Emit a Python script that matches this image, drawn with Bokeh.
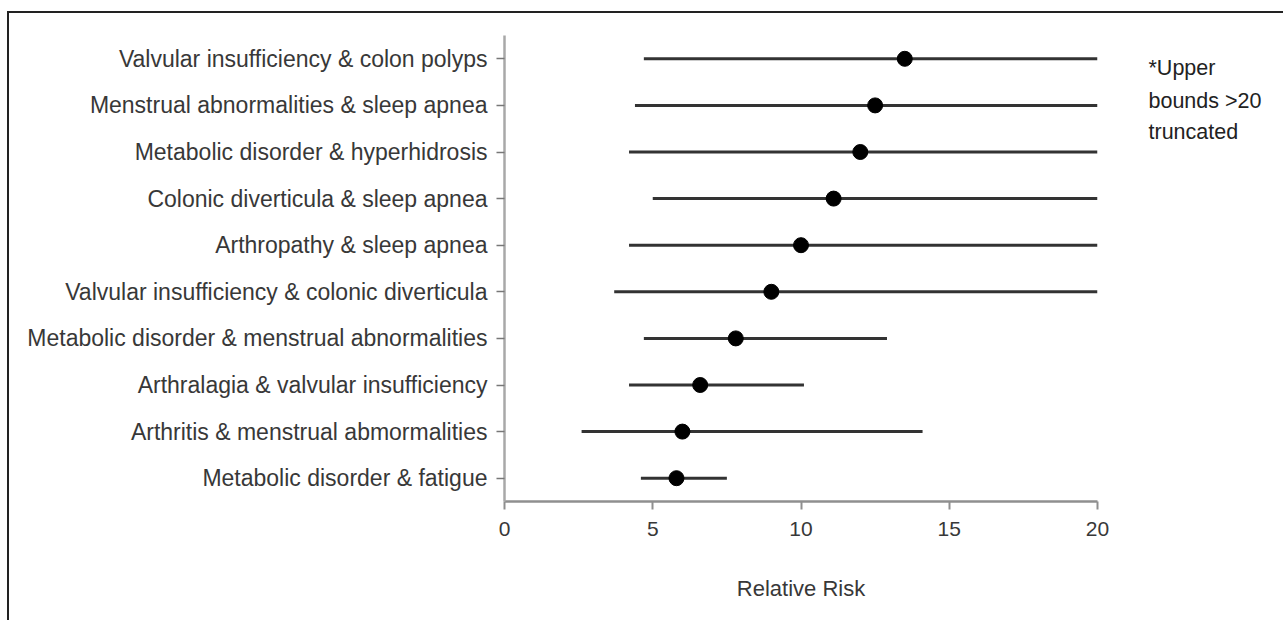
from bokeh.plotting import figure
from bokeh.models import Range1d, FixedTicker, ColumnDataSource, LinearAxis
from bokeh.embed import file_html
from bokeh.resources import INLINE

# Data (top-to-bottom as in the reference)
pairs = [
    "Valvular insufficiency & colon polyps",
    "Menstrual abnormalities & sleep apnea",
    "Metabolic disorder & hyperhidrosis",
    "Colonic diverticula & sleep apnea",
    "Arthropathy & sleep apnea",
    "Valvular insufficiency & colonic diverticula",
    "Metabolic disorder & menstrual abnormalities",
    "Arthralagia & valvular insufficiency",
    "Arthritis & menstrual abmormalities",
    "Metabolic disorder & fatigue",
]
relative_risk = [13.5, 12.5, 12.0, 11.1, 10.0, 9.0, 7.8, 6.6, 6.0, 5.8]
lower_bound = [4.7, 4.4, 4.2, 5.0, 4.2, 3.7, 4.7, 4.2, 2.6, 4.6]
upper_bound = [20, 20, 20, 20, 20, 20, 12.9, 10.1, 14.1, 7.5]  # >20 truncated at 20
x_ticks = [0, 5, 10, 15, 20]
note_lines = ["*Upper", "bounds >20", "truncated"]

FONT = "Liberation Sans"
TXT = "#383838"

n = len(pairs)
row_pos = [n - 0.5 - i for i in range(n)]          # one band per pair, top to bottom
src = ColumnDataSource(dict(pos=row_pos, rr=relative_risk, lo=lower_bound, hi=upper_bound))

# canvas offset produced by the CSS margin+border below
OX, OY = 9, 13
FW, FH = 593, 466
LEFT, TOP = 504 - OX, 35 - OY
p = figure(
    y_range=Range1d(0, n),
    x_range=Range1d(0, 20),
    frame_width=FW, frame_height=FH,
    min_border_left=LEFT, min_border_right=1274 - LEFT - FW,
    min_border_top=TOP, min_border_bottom=607 - TOP - FH,
    output_backend="svg", toolbar_location=None,
)
p.styles = {"margin-top": "11px", "margin-left": "7px",
            "border-top": "2px solid #222222", "border-left": "2px solid #222222"}
p.outline_line_color = None
p.xgrid.grid_line_color = None
p.ygrid.grid_line_color = None
p.background_fill_color = "white"
p.border_fill_color = "white"

p.segment(x0="lo", y0="pos", x1="hi", y1="pos", source=src,
          line_color="#333333", line_width=3)
p.scatter(x="rr", y="pos", source=src, size=15, marker="circle",
          fill_color="black", line_color="black")

# x axis
xa = p.xaxis[0]
xa.ticker = FixedTicker(ticks=x_ticks)
xa.minor_tick_line_color = None
xa.axis_line_color = "#8f8f8f"
xa.axis_line_width = 2.5
xa.major_tick_line_color = "#8f8f8f"
xa.major_tick_line_width = 2
xa.major_tick_in = 0
xa.major_tick_out = 8
xa.major_label_standoff = 12
xa.major_label_text_font = FONT
xa.major_label_text_font_size = "21px"
xa.major_label_text_color = TXT
xa.axis_label = "Relative Risk"
xa.axis_label_text_font = FONT
xa.axis_label_text_font_size = "22px"
xa.axis_label_text_font_style = "normal"
xa.axis_label_text_color = TXT
xa.axis_label_standoff = 37

# y axis: pair names at their bands
ya = p.yaxis[0]
ya.ticker = FixedTicker(ticks=row_pos)
ya.major_label_overrides = {pos: name for pos, name in zip(row_pos, pairs)}
ya.axis_line_color = "#a8a8a8"
ya.axis_line_width = 2.5
ya.major_tick_line_color = "#777777"
ya.major_tick_line_width = 1.5
ya.major_tick_in = 0
ya.major_tick_out = 8
ya.minor_tick_line_color = None
ya.major_label_standoff = 9
ya.major_label_text_font = FONT
ya.major_label_text_font_size = "23px"
ya.major_label_text_color = TXT

# note at top right, as labels of an invisible right axis
note_pos = [9.313, 8.594, 7.929]
na = LinearAxis(ticker=FixedTicker(ticks=note_pos),
                major_label_overrides={k: t for k, t in zip(note_pos, note_lines)})
na.axis_line_color = None
na.major_tick_line_color = None
na.minor_tick_line_color = None
na.major_tick_in = 0
na.major_tick_out = 0
na.major_label_standoff = 51
na.major_label_text_font = FONT
na.major_label_text_font_size = "21.5px"
na.major_label_text_color = "#222222"
p.add_layout(na, "right")

open("out.html", "w").write(file_html(p, INLINE))
